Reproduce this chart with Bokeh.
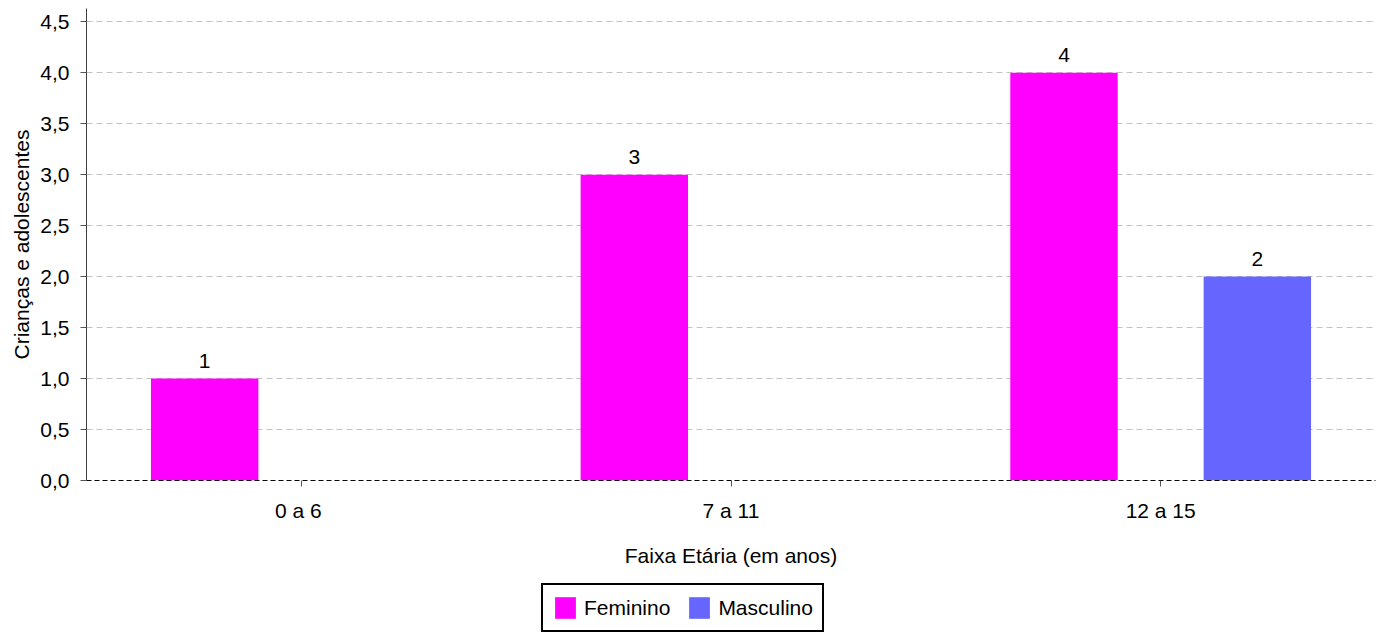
from bokeh.plotting import figure
from bokeh.layouts import column
from bokeh.models import ColumnDataSource, FixedTicker, CustomJSTickFormatter, Legend, LegendItem, Range1d
from bokeh.transform import dodge
from bokeh.core.properties import value
from bokeh.embed import file_html
from bokeh.resources import INLINE

categories = ["0 a  6", "7 a 11", "12 a 15"]
feminino = [1, 3, 4]
masculino = [0, 0, 2]
series_names = ["Feminino", "Masculino"]
series_colors = ["#FF00FF", "#6666FF"]
y_ticks = [0, 0.5, 1, 1.5, 2, 2.5, 3, 3.5, 4, 4.5]
x_title = "Faixa Etária (em anos)"
y_title = "Crianças e adolescentes"

FONT = "Liberation Sans"
FS = "21px"

p = figure(x_range=categories, y_range=(0, 4.63), width=1382, height=575,
           output_backend="svg", toolbar_location=None,
           min_border_left=86, min_border_right=7, min_border_top=8, min_border_bottom=95)
p.outline_line_color = None
p.x_range.range_padding = 0

src = ColumnDataSource(dict(cat=categories, fem=feminino, mas=masculino))

r1 = p.vbar(x=dodge("cat", -0.225, range=p.x_range), top="fem", width=0.25, source=src,
            fill_color=series_colors[0], line_color=None)
r2 = p.vbar(x=dodge("cat", 0.225, range=p.x_range), top="mas", width=0.25, source=src,
            fill_color=series_colors[1], line_color=None)

# value labels (non-zero only)
for off, vals in ((-0.225, feminino), (0.225, masculino)):
    d = dict(cat=[c for c, v in zip(categories, vals) if v],
             y=[v for v in vals if v],
             t=[str(v) for v in vals if v])
    s = ColumnDataSource(d)
    p.text(x=dodge("cat", off, range=p.x_range), y="y", text="t", source=s,
           text_align="center", text_baseline="alphabetic", y_offset=-18,
           text_font=value(FONT), text_font_size=FS, text_color="#000000")

# axes
p.yaxis.ticker = FixedTicker(ticks=y_ticks)
p.yaxis.formatter = CustomJSTickFormatter(code="return tick.toFixed(1).replace('.', ',');")
p.yaxis.axis_label = y_title
p.xaxis.axis_label = x_title
p.xaxis.major_label_overrides = {categories[0]: "0 a \u00a06"}
for ax in (p.xaxis[0], p.yaxis[0]):
    ax.axis_label_text_font = FONT
    ax.axis_label_text_font_size = FS
    ax.axis_label_text_font_style = "normal"
    ax.axis_label_text_color = "#000000"
    ax.major_label_text_font = FONT
    ax.major_label_text_font_size = FS
    ax.major_label_text_color = "#000000"
    ax.minor_tick_line_color = None
    ax.major_tick_in = 0
    ax.major_tick_out = 6
    ax.major_tick_line_color = "#555555"

p.yaxis.axis_line_color = "#404040"
p.yaxis.major_label_standoff = 11
p.yaxis.axis_label_standoff = 4

p.xaxis.axis_line_color = "#000000"
p.xaxis.axis_line_dash = "5 3"
p.xaxis.major_label_standoff = 12
p.xaxis.axis_label_standoff = 19

p.xgrid.grid_line_color = None
p.ygrid.grid_line_color = "#c4c4c4"
p.ygrid.grid_line_dash = "6 4"
p.ygrid.ticker = FixedTicker(ticks=y_ticks[1:])

# legend strip below the chart (its frame is aligned with the chart's frame)
lg = figure(width=1382, height=59, x_range=Range1d(0, 1), y_range=Range1d(0, 1),
            x_axis_location=None, y_axis_location=None,
            output_backend="svg", toolbar_location=None,
            min_border_left=86, min_border_right=7, min_border_top=0, min_border_bottom=0)
lg.grid.visible = False
lg.outline_line_color = None
g1 = lg.vbar(x=[0.5], top=[1], width=0.1, fill_color=series_colors[0], line_color=None, visible=False)
g2 = lg.vbar(x=[0.5], top=[1], width=0.1, fill_color=series_colors[1], line_color=None, visible=False)

legend = Legend(items=[LegendItem(label=series_names[0], renderers=[g1]),
                       LegendItem(label=series_names[1], renderers=[g2])],
                orientation="horizontal", location=(455, 2))
legend.label_text_font = FONT
legend.label_text_font_size = FS
legend.label_text_color = "#000000"
legend.glyph_width = 26
legend.glyph_height = 27
legend.label_standoff = 6
legend.spacing = 16
legend.padding = 9
legend.margin = 0
legend.border_line_color = "#000000"
legend.border_line_alpha = 1
legend.border_line_width = 2
legend.background_fill_alpha = 1
lg.add_layout(legend)

layout = column(p, lg, spacing=0)
open("out.html", "w").write(file_html(layout, INLINE))
